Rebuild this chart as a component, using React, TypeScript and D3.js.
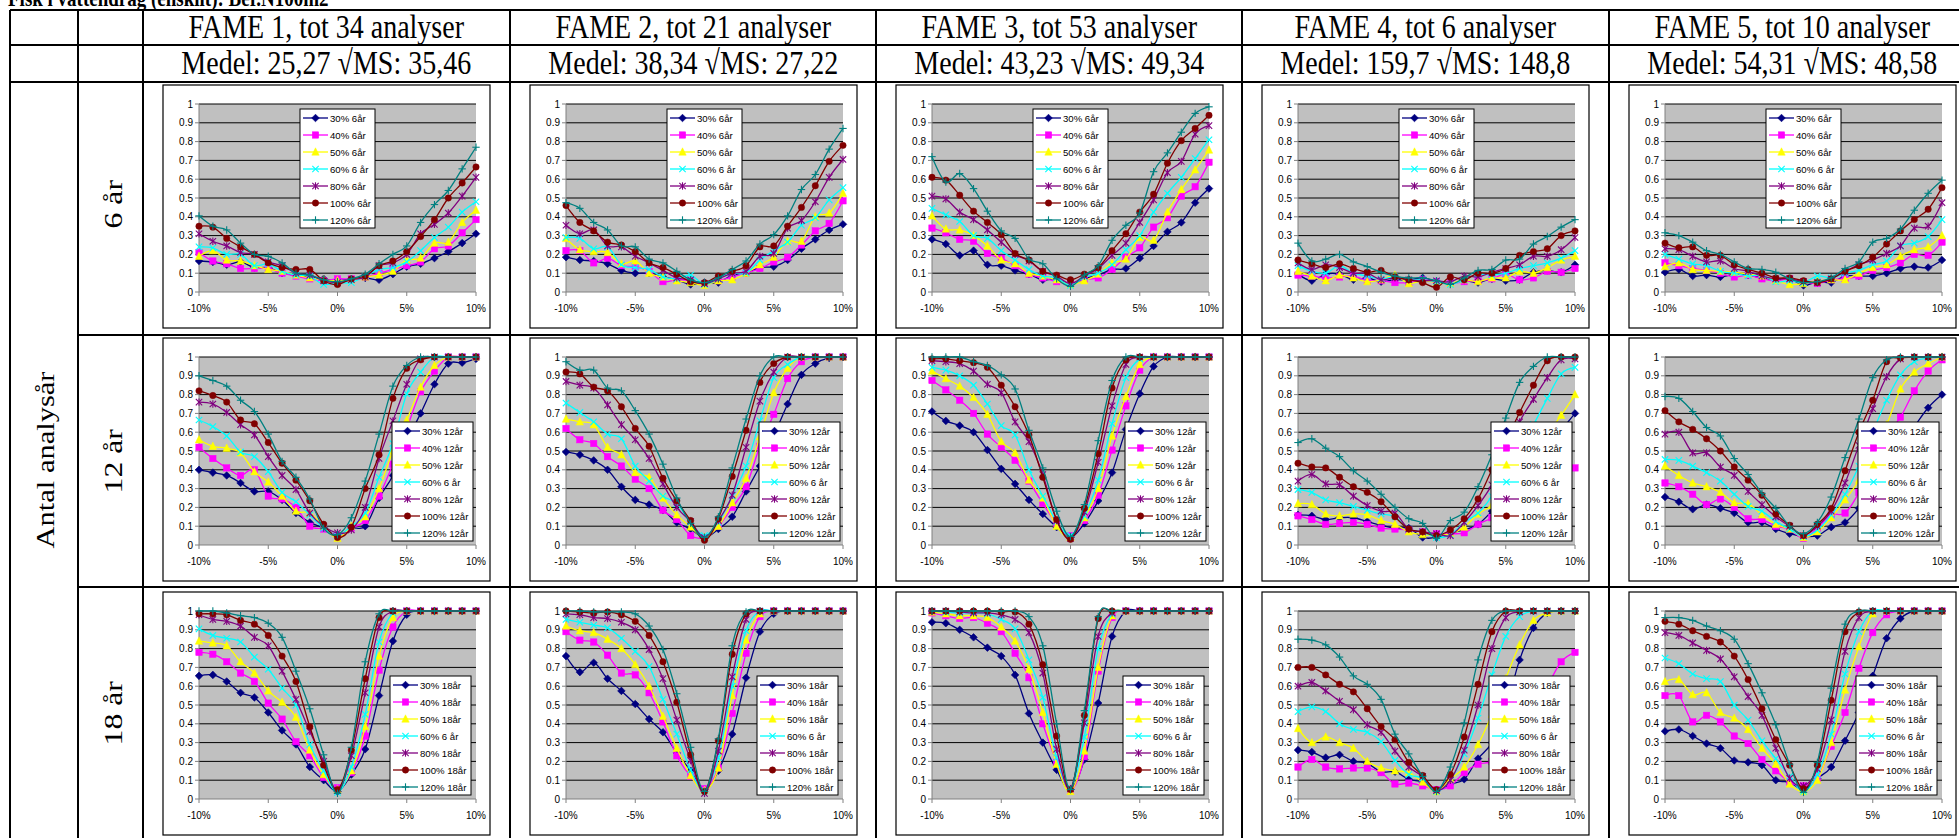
import React from 'react';
import * as d3 from 'd3';

const titleText = 'Fisk i vattendrag (enskilt): Ber.N100m2';
const fameTitles = ['FAME 1, tot 34 analyser', 'FAME 2, tot 21 analyser', 'FAME 3, tot 53 analyser', 'FAME 4, tot 6 analyser', 'FAME 5, tot 10 analyser'];
const medelTexts = ['Medel: 25,27 \u221AMS: 35,46', 'Medel: 38,34 \u221AMS: 27,22', 'Medel: 43,23 \u221AMS: 49,34', 'Medel: 159,7 \u221AMS: 148,8', 'Medel: 54,31 \u221AMS: 48,58'];
const rowLabels = ['6 år', '12 år', '18 år'];
const sideLabel = 'Antal analysår';

const xCats = [-10, -9, -8, -7, -6, -5, -4, -3, -2, -1, 0, 1, 2, 3, 4, 5, 6, 7, 8, 9, 10];
const xTickVals = [-10, -5, 0, 5, 10];
const xTickLabels = ['-10%', '-5%', '0%', '5%', '10%'];
const yTickVals = [0, 0.1, 0.2, 0.3, 0.4, 0.5, 0.6, 0.7, 0.8, 0.9, 1];
const yTickLabels = ['0', '0.1', '0.2', '0.3', '0.4', '0.5', '0.6', '0.7', '0.8', '0.9', '1'];

const seriesColors = ['#000080', '#FF00FF', '#FFFF00', '#00FFFF', '#800080', '#800000', '#008080'];
const markerShapes = ['diamond', 'square', 'triangle', 'x', 'star', 'circle', 'plus'];

const legend6 = ['30% 6år', '40% 6år', '50% 6år', '60% 6 år', '80% 6år', '100% 6år', '120% 6år'];
const legend12 = ['30% 12år', '40% 12år', '50% 12år', '60% 6 år', '80% 12år', '100% 12år', '120% 12år'];
const legend18 = ['30% 18år', '40% 18år', '50% 18år', '60% 6 år', '80% 18år', '100% 18år', '120% 18år'];

// ---- FAME 1 ----
const fame1_6 = [
  [0.165, 0.16, 0.145, 0.16, 0.13, 0.13, 0.10, 0.09, 0.08, 0.07, 0.06, 0.07, 0.075, 0.065, 0.095, 0.135, 0.15, 0.18, 0.215, 0.26, 0.31],
  [0.21, 0.165, 0.15, 0.125, 0.125, 0.125, 0.10, 0.085, 0.07, 0.06, 0.07, 0.07, 0.08, 0.10, 0.12, 0.14, 0.16, 0.23, 0.245, 0.315, 0.385],
  [0.19, 0.22, 0.17, 0.165, 0.14, 0.12, 0.11, 0.09, 0.075, 0.065, 0.06, 0.065, 0.08, 0.09, 0.11, 0.17, 0.18, 0.26, 0.265, 0.37, 0.435],
  [0.24, 0.235, 0.2, 0.2, 0.14, 0.15, 0.11, 0.09, 0.085, 0.04, 0.05, 0.05, 0.085, 0.12, 0.13, 0.16, 0.22, 0.29, 0.345, 0.425, 0.48],
  [0.31, 0.27, 0.245, 0.21, 0.2, 0.16, 0.14, 0.10, 0.09, 0.06, 0.05, 0.065, 0.08, 0.14, 0.155, 0.2, 0.31, 0.36, 0.42, 0.51, 0.61],
  [0.35, 0.345, 0.285, 0.24, 0.20, 0.155, 0.13, 0.12, 0.12, 0.06, 0.04, 0.07, 0.085, 0.14, 0.165, 0.215, 0.295, 0.385, 0.50, 0.58, 0.665],
  [0.405, 0.35, 0.33, 0.26, 0.20, 0.19, 0.155, 0.10, 0.09, 0.065, 0.055, 0.07, 0.095, 0.15, 0.20, 0.245, 0.37, 0.465, 0.54, 0.655, 0.77],
];
const fame1_12 = [
  [0.40, 0.385, 0.37, 0.33, 0.285, 0.285, 0.24, 0.17, 0.12, 0.09, 0.05, 0.09, 0.10, 0.25, 0.37, 0.55, 0.70, 0.855, 0.965, 0.97, 0.99],
  [0.52, 0.46, 0.41, 0.37, 0.40, 0.26, 0.245, 0.20, 0.10, 0.085, 0.05, 0.09, 0.13, 0.26, 0.43, 0.62, 0.815, 0.925, 1, 1, 1],
  [0.56, 0.525, 0.515, 0.49, 0.39, 0.335, 0.26, 0.18, 0.17, 0.10, 0.035, 0.10, 0.15, 0.30, 0.50, 0.665, 0.84, 0.955, 1, 1, 1],
  [0.665, 0.63, 0.58, 0.495, 0.47, 0.39, 0.28, 0.23, 0.16, 0.09, 0.05, 0.10, 0.17, 0.36, 0.54, 0.805, 0.92, 1, 1, 1, 1],
  [0.76, 0.75, 0.705, 0.64, 0.585, 0.47, 0.37, 0.295, 0.17, 0.10, 0.065, 0.08, 0.20, 0.46, 0.66, 0.855, 0.99, 1, 1, 1, 1],
  [0.82, 0.795, 0.76, 0.665, 0.645, 0.545, 0.435, 0.345, 0.235, 0.11, 0.04, 0.095, 0.30, 0.48, 0.78, 0.94, 0.985, 1, 1, 1, 1],
  [0.90, 0.875, 0.845, 0.77, 0.71, 0.59, 0.445, 0.36, 0.245, 0.09, 0.055, 0.145, 0.34, 0.59, 0.845, 0.955, 1, 1, 1, 1, 1],
];
const fame1_18 = [
  [0.655, 0.66, 0.625, 0.565, 0.54, 0.46, 0.365, 0.29, 0.17, 0.10, 0.04, 0.13, 0.265, 0.55, 0.84, 0.98, 1, 1, 1, 1, 1],
  [0.78, 0.77, 0.73, 0.67, 0.625, 0.51, 0.425, 0.305, 0.23, 0.115, 0.06, 0.14, 0.335, 0.685, 0.915, 1, 1, 1, 1, 1, 1],
  [0.84, 0.83, 0.815, 0.73, 0.67, 0.575, 0.515, 0.435, 0.26, 0.13, 0.05, 0.15, 0.385, 0.76, 0.965, 1, 1, 1, 1, 1, 1],
  [0.905, 0.87, 0.855, 0.835, 0.755, 0.69, 0.59, 0.50, 0.29, 0.15, 0.035, 0.17, 0.45, 0.835, 0.99, 1, 1, 1, 1, 1, 1],
  [0.98, 0.955, 0.945, 0.92, 0.86, 0.815, 0.68, 0.53, 0.36, 0.20, 0.045, 0.23, 0.565, 0.915, 1, 1, 1, 1, 1, 1, 1],
  [0.985, 0.985, 0.98, 0.95, 0.93, 0.87, 0.76, 0.625, 0.385, 0.18, 0.05, 0.26, 0.64, 0.965, 1, 1, 1, 1, 1, 1, 1],
  [1, 1, 0.99, 0.975, 0.965, 0.935, 0.86, 0.68, 0.48, 0.235, 0.03, 0.275, 0.73, 0.985, 1, 1, 1, 1, 1, 1, 1],
];

// ---- FAME 2 ----
const fame2_6 = [
  [0.185, 0.17, 0.165, 0.15, 0.115, 0.10, 0.10, 0.08, 0.065, 0.04, 0.05, 0.05, 0.09, 0.10, 0.13, 0.135, 0.17, 0.23, 0.28, 0.33, 0.36],
  [0.22, 0.22, 0.155, 0.18, 0.14, 0.135, 0.11, 0.055, 0.065, 0.06, 0.04, 0.06, 0.08, 0.10, 0.125, 0.16, 0.185, 0.25, 0.325, 0.365, 0.485],
  [0.285, 0.225, 0.215, 0.21, 0.15, 0.165, 0.10, 0.08, 0.06, 0.05, 0.035, 0.06, 0.065, 0.10, 0.145, 0.185, 0.27, 0.27, 0.40, 0.42, 0.525],
  [0.29, 0.285, 0.23, 0.24, 0.145, 0.13, 0.12, 0.08, 0.07, 0.09, 0.04, 0.07, 0.10, 0.10, 0.17, 0.22, 0.265, 0.355, 0.395, 0.49, 0.555],
  [0.355, 0.31, 0.33, 0.245, 0.24, 0.19, 0.155, 0.115, 0.075, 0.065, 0.045, 0.07, 0.10, 0.11, 0.19, 0.205, 0.34, 0.38, 0.48, 0.61, 0.705],
  [0.46, 0.37, 0.325, 0.265, 0.25, 0.215, 0.155, 0.13, 0.095, 0.055, 0.05, 0.085, 0.11, 0.14, 0.24, 0.245, 0.35, 0.45, 0.565, 0.695, 0.78],
  [0.475, 0.445, 0.37, 0.33, 0.245, 0.24, 0.175, 0.155, 0.11, 0.065, 0.05, 0.075, 0.12, 0.165, 0.255, 0.305, 0.405, 0.545, 0.625, 0.76, 0.87],
];
const fame2_12 = [
  [0.495, 0.48, 0.45, 0.40, 0.31, 0.24, 0.215, 0.185, 0.12, 0.085, 0.04, 0.085, 0.15, 0.285, 0.42, 0.58, 0.75, 0.905, 0.965, 0.995, 1],
  [0.62, 0.56, 0.54, 0.47, 0.42, 0.35, 0.30, 0.185, 0.135, 0.05, 0.04, 0.10, 0.20, 0.31, 0.525, 0.695, 0.885, 0.975, 1, 1, 1],
  [0.67, 0.655, 0.64, 0.52, 0.48, 0.385, 0.36, 0.25, 0.16, 0.095, 0.04, 0.10, 0.225, 0.355, 0.575, 0.81, 0.94, 1, 1, 1, 1],
  [0.755, 0.705, 0.655, 0.59, 0.565, 0.42, 0.34, 0.26, 0.22, 0.12, 0.05, 0.12, 0.26, 0.42, 0.66, 0.89, 0.96, 1, 1, 1, 1],
  [0.87, 0.85, 0.835, 0.745, 0.64, 0.56, 0.46, 0.325, 0.20, 0.125, 0.04, 0.13, 0.265, 0.52, 0.765, 0.92, 1, 1, 1, 1, 1],
  [0.92, 0.91, 0.84, 0.82, 0.735, 0.62, 0.525, 0.355, 0.235, 0.13, 0.025, 0.14, 0.365, 0.61, 0.865, 0.965, 1, 1, 1, 1, 1],
  [0.975, 0.93, 0.93, 0.835, 0.82, 0.715, 0.59, 0.43, 0.25, 0.115, 0.04, 0.15, 0.41, 0.67, 0.90, 1, 1, 1, 1, 1, 1],
];
const fame2_18 = [
  [0.76, 0.675, 0.725, 0.64, 0.575, 0.505, 0.425, 0.355, 0.245, 0.15, 0.05, 0.15, 0.345, 0.645, 0.89, 0.985, 1, 1, 1, 1, 1],
  [0.89, 0.845, 0.835, 0.765, 0.67, 0.66, 0.565, 0.41, 0.23, 0.12, 0.055, 0.165, 0.455, 0.775, 0.97, 1, 1, 1, 1, 1, 1],
  [0.92, 0.895, 0.885, 0.85, 0.80, 0.715, 0.60, 0.44, 0.27, 0.125, 0.045, 0.165, 0.55, 0.845, 0.985, 1, 1, 1, 1, 1, 1],
  [0.955, 0.94, 0.925, 0.91, 0.855, 0.785, 0.705, 0.53, 0.345, 0.155, 0.045, 0.22, 0.60, 0.895, 1, 1, 1, 1, 1, 1, 1],
  [0.985, 0.98, 0.965, 0.96, 0.94, 0.90, 0.795, 0.64, 0.42, 0.205, 0.03, 0.255, 0.65, 0.955, 1, 1, 1, 1, 1, 1, 1],
  [1, 0.995, 0.99, 0.995, 0.98, 0.945, 0.87, 0.73, 0.515, 0.235, 0.04, 0.31, 0.77, 0.985, 1, 1, 1, 1, 1, 1, 1],
  [1, 1, 0.995, 0.995, 0.995, 0.985, 0.92, 0.795, 0.56, 0.275, 0.04, 0.32, 0.815, 0.995, 1, 1, 1, 1, 1, 1, 1],
];

// ---- FAME 3 ----
const fame3_6 = [
  [0.28, 0.255, 0.195, 0.22, 0.145, 0.14, 0.115, 0.095, 0.065, 0.07, 0.04, 0.07, 0.09, 0.12, 0.125, 0.18, 0.245, 0.32, 0.37, 0.475, 0.55],
  [0.34, 0.315, 0.28, 0.27, 0.205, 0.18, 0.14, 0.095, 0.075, 0.055, 0.045, 0.065, 0.075, 0.12, 0.185, 0.235, 0.345, 0.395, 0.51, 0.56, 0.69],
  [0.405, 0.335, 0.33, 0.30, 0.245, 0.17, 0.15, 0.10, 0.085, 0.065, 0.04, 0.06, 0.095, 0.155, 0.175, 0.29, 0.275, 0.425, 0.545, 0.65, 0.755],
  [0.445, 0.41, 0.375, 0.30, 0.285, 0.22, 0.17, 0.12, 0.085, 0.075, 0.035, 0.08, 0.10, 0.145, 0.225, 0.30, 0.425, 0.525, 0.61, 0.71, 0.81],
  [0.51, 0.495, 0.425, 0.385, 0.33, 0.265, 0.20, 0.165, 0.11, 0.085, 0.045, 0.085, 0.125, 0.195, 0.26, 0.37, 0.49, 0.635, 0.695, 0.84, 0.885],
  [0.61, 0.595, 0.515, 0.43, 0.37, 0.305, 0.205, 0.17, 0.11, 0.09, 0.065, 0.095, 0.13, 0.22, 0.31, 0.425, 0.52, 0.685, 0.805, 0.87, 0.94],
  [0.72, 0.585, 0.63, 0.55, 0.43, 0.325, 0.285, 0.175, 0.15, 0.07, 0.03, 0.09, 0.14, 0.275, 0.355, 0.42, 0.64, 0.74, 0.85, 0.95, 0.985],
];
const fame3_12 = [
  [0.71, 0.66, 0.635, 0.60, 0.505, 0.405, 0.325, 0.24, 0.165, 0.095, 0.04, 0.115, 0.235, 0.385, 0.615, 0.805, 0.95, 1, 1, 1, 1],
  [0.875, 0.825, 0.77, 0.70, 0.59, 0.52, 0.45, 0.34, 0.22, 0.115, 0.05, 0.13, 0.265, 0.505, 0.74, 0.93, 1, 1, 1, 1, 1],
  [0.925, 0.885, 0.845, 0.785, 0.695, 0.55, 0.49, 0.345, 0.25, 0.10, 0.04, 0.145, 0.30, 0.58, 0.79, 0.96, 1, 1, 1, 1, 1],
  [0.945, 0.93, 0.90, 0.85, 0.75, 0.635, 0.585, 0.40, 0.26, 0.125, 0.05, 0.155, 0.345, 0.645, 0.89, 0.99, 1, 1, 1, 1, 1],
  [0.98, 0.975, 0.965, 0.925, 0.855, 0.81, 0.655, 0.55, 0.375, 0.13, 0.035, 0.175, 0.44, 0.74, 0.96, 1, 1, 1, 1, 1, 1],
  [0.99, 0.99, 0.98, 0.97, 0.945, 0.85, 0.735, 0.585, 0.36, 0.135, 0.03, 0.195, 0.485, 0.835, 0.985, 1, 1, 1, 1, 1, 1],
  [1, 1, 1, 0.975, 0.955, 0.905, 0.83, 0.61, 0.41, 0.18, 0.045, 0.215, 0.555, 0.875, 1, 1, 1, 1, 1, 1, 1],
];
const fame3_18 = [
  [0.94, 0.935, 0.90, 0.86, 0.805, 0.76, 0.66, 0.455, 0.30, 0.155, 0.05, 0.21, 0.51, 0.865, 1, 1, 1, 1, 1, 1, 1],
  [0.99, 0.975, 0.96, 0.965, 0.935, 0.89, 0.775, 0.645, 0.40, 0.195, 0.045, 0.225, 0.68, 0.965, 1, 1, 1, 1, 1, 1, 1],
  [0.995, 0.985, 0.975, 0.975, 0.965, 0.915, 0.84, 0.69, 0.46, 0.185, 0.04, 0.255, 0.70, 0.975, 1, 1, 1, 1, 1, 1, 1],
  [1, 0.995, 0.99, 0.99, 0.985, 0.955, 0.905, 0.74, 0.54, 0.22, 0.06, 0.33, 0.80, 0.985, 1, 1, 1, 1, 1, 1, 1],
  [1, 1, 0.995, 0.99, 0.99, 0.98, 0.955, 0.885, 0.67, 0.265, 0.055, 0.405, 0.865, 0.99, 1, 1, 1, 1, 1, 1, 1],
  [1, 1, 1, 1, 1, 0.995, 0.995, 0.93, 0.715, 0.335, 0.05, 0.445, 0.96, 1, 1, 1, 1, 1, 1, 1, 1],
  [1, 1, 1, 1, 1, 1, 1, 0.97, 0.815, 0.40, 0.05, 0.47, 0.97, 1, 1, 1, 1, 1, 1, 1, 1],
];

// ---- FAME 4 ----
const fame4_6 = [
  [0.095, 0.06, 0.095, 0.095, 0.065, 0.075, 0.055, 0.065, 0.065, 0.075, 0.055, 0.045, 0.06, 0.05, 0.07, 0.06, 0.065, 0.105, 0.115, 0.105, 0.145],
  [0.09, 0.085, 0.075, 0.08, 0.085, 0.06, 0.06, 0.05, 0.05, 0.065, 0.055, 0.045, 0.055, 0.06, 0.07, 0.095, 0.065, 0.075, 0.11, 0.105, 0.125],
  [0.11, 0.085, 0.06, 0.09, 0.075, 0.055, 0.065, 0.09, 0.045, 0.06, 0.05, 0.045, 0.065, 0.055, 0.075, 0.075, 0.11, 0.10, 0.13, 0.17, 0.19],
  [0.14, 0.11, 0.10, 0.14, 0.10, 0.085, 0.07, 0.08, 0.065, 0.065, 0.055, 0.04, 0.065, 0.095, 0.09, 0.10, 0.125, 0.14, 0.155, 0.18, 0.22],
  [0.155, 0.12, 0.145, 0.13, 0.10, 0.10, 0.065, 0.075, 0.065, 0.06, 0.06, 0.055, 0.085, 0.08, 0.105, 0.125, 0.145, 0.19, 0.19, 0.225, 0.29],
  [0.17, 0.15, 0.13, 0.15, 0.125, 0.105, 0.115, 0.08, 0.065, 0.05, 0.025, 0.08, 0.065, 0.10, 0.10, 0.125, 0.195, 0.215, 0.23, 0.30, 0.325],
  [0.26, 0.165, 0.175, 0.20, 0.16, 0.135, 0.105, 0.085, 0.075, 0.075, 0.06, 0.04, 0.075, 0.115, 0.12, 0.17, 0.175, 0.255, 0.295, 0.345, 0.385],
];
const fame4_12 = [
  [0.16, 0.155, 0.135, 0.145, 0.145, 0.125, 0.105, 0.09, 0.09, 0.04, 0.04, 0.065, 0.08, 0.11, 0.18, 0.26, 0.34, 0.43, 0.52, 0.61, 0.70],
  [0.155, 0.135, 0.11, 0.115, 0.12, 0.11, 0.09, 0.085, 0.08, 0.07, 0.06, 0.06, 0.065, 0.11, 0.145, 0.20, 0.25, 0.29, 0.33, 0.37, 0.41],
  [0.22, 0.215, 0.165, 0.155, 0.165, 0.16, 0.13, 0.11, 0.07, 0.055, 0.05, 0.06, 0.095, 0.165, 0.21, 0.28, 0.38, 0.49, 0.59, 0.69, 0.80],
  [0.295, 0.28, 0.24, 0.225, 0.205, 0.185, 0.165, 0.15, 0.085, 0.07, 0.04, 0.055, 0.12, 0.17, 0.26, 0.40, 0.52, 0.64, 0.78, 0.91, 0.945],
  [0.34, 0.375, 0.325, 0.32, 0.26, 0.21, 0.18, 0.17, 0.085, 0.07, 0.06, 0.05, 0.12, 0.21, 0.32, 0.47, 0.655, 0.775, 0.89, 0.985, 0.99],
  [0.435, 0.415, 0.41, 0.36, 0.31, 0.28, 0.23, 0.15, 0.085, 0.07, 0.05, 0.08, 0.14, 0.245, 0.40, 0.55, 0.705, 0.85, 0.98, 1, 1],
  [0.545, 0.565, 0.515, 0.47, 0.395, 0.34, 0.27, 0.20, 0.14, 0.115, 0.035, 0.13, 0.175, 0.31, 0.48, 0.675, 0.865, 0.95, 1, 1, 1],
];
const fame4_18 = [
  [0.26, 0.25, 0.22, 0.235, 0.20, 0.19, 0.145, 0.145, 0.105, 0.09, 0.045, 0.08, 0.105, 0.215, 0.30, 0.48, 0.74, 0.91, 0.99, 1, 1],
  [0.17, 0.21, 0.17, 0.16, 0.165, 0.165, 0.14, 0.08, 0.085, 0.07, 0.05, 0.07, 0.14, 0.185, 0.20, 0.27, 0.37, 0.48, 0.60, 0.73, 0.78],
  [0.375, 0.30, 0.33, 0.30, 0.27, 0.20, 0.165, 0.15, 0.14, 0.09, 0.04, 0.105, 0.17, 0.29, 0.45, 0.64, 0.82, 0.95, 0.99, 1, 1],
  [0.465, 0.49, 0.465, 0.40, 0.37, 0.355, 0.305, 0.205, 0.13, 0.11, 0.04, 0.10, 0.24, 0.43, 0.66, 0.865, 0.97, 1, 1, 1, 1],
  [0.60, 0.62, 0.575, 0.52, 0.475, 0.395, 0.355, 0.255, 0.17, 0.12, 0.045, 0.10, 0.26, 0.50, 0.80, 0.965, 0.995, 1, 1, 1, 1],
  [0.70, 0.70, 0.66, 0.61, 0.57, 0.48, 0.385, 0.315, 0.195, 0.125, 0.05, 0.13, 0.33, 0.61, 0.89, 1, 1, 1, 1, 1, 1],
  [0.85, 0.845, 0.82, 0.755, 0.655, 0.61, 0.53, 0.345, 0.24, 0.12, 0.04, 0.17, 0.405, 0.74, 0.95, 1, 1, 1, 1, 1, 1],
];

// ---- FAME 5 ----
const fame5_6 = [
  [0.105, 0.12, 0.085, 0.09, 0.08, 0.095, 0.09, 0.075, 0.065, 0.07, 0.035, 0.055, 0.05, 0.085, 0.085, 0.085, 0.10, 0.125, 0.135, 0.13, 0.17],
  [0.155, 0.14, 0.125, 0.115, 0.10, 0.08, 0.09, 0.07, 0.06, 0.07, 0.055, 0.045, 0.065, 0.07, 0.085, 0.115, 0.13, 0.155, 0.20, 0.195, 0.265],
  [0.135, 0.155, 0.12, 0.115, 0.11, 0.105, 0.095, 0.085, 0.06, 0.04, 0.045, 0.06, 0.065, 0.065, 0.10, 0.13, 0.145, 0.19, 0.225, 0.24, 0.30],
  [0.20, 0.175, 0.15, 0.14, 0.11, 0.10, 0.085, 0.09, 0.055, 0.06, 0.05, 0.085, 0.075, 0.10, 0.115, 0.145, 0.165, 0.245, 0.26, 0.295, 0.385],
  [0.23, 0.225, 0.19, 0.16, 0.165, 0.125, 0.11, 0.085, 0.07, 0.07, 0.055, 0.05, 0.07, 0.11, 0.145, 0.17, 0.205, 0.245, 0.34, 0.35, 0.475],
  [0.26, 0.235, 0.24, 0.195, 0.195, 0.145, 0.12, 0.10, 0.075, 0.075, 0.06, 0.05, 0.07, 0.11, 0.14, 0.185, 0.255, 0.325, 0.385, 0.44, 0.555],
  [0.315, 0.30, 0.265, 0.22, 0.20, 0.16, 0.125, 0.12, 0.105, 0.07, 0.05, 0.055, 0.075, 0.125, 0.16, 0.265, 0.285, 0.335, 0.435, 0.525, 0.595],
];
const fame5_12 = [
  [0.255, 0.23, 0.19, 0.215, 0.195, 0.17, 0.12, 0.12, 0.085, 0.06, 0.045, 0.05, 0.095, 0.12, 0.195, 0.30, 0.42, 0.53, 0.63, 0.73, 0.80],
  [0.33, 0.31, 0.27, 0.215, 0.245, 0.20, 0.14, 0.135, 0.10, 0.085, 0.035, 0.09, 0.16, 0.17, 0.28, 0.45, 0.58, 0.68, 0.82, 0.925, 0.985],
  [0.42, 0.37, 0.33, 0.31, 0.28, 0.225, 0.22, 0.16, 0.11, 0.085, 0.04, 0.07, 0.145, 0.24, 0.345, 0.50, 0.64, 0.83, 0.92, 0.965, 1],
  [0.455, 0.45, 0.42, 0.385, 0.34, 0.27, 0.205, 0.18, 0.125, 0.085, 0.045, 0.08, 0.16, 0.27, 0.42, 0.60, 0.77, 0.905, 0.975, 0.995, 1],
  [0.59, 0.60, 0.49, 0.49, 0.415, 0.37, 0.285, 0.215, 0.15, 0.10, 0.05, 0.10, 0.18, 0.33, 0.53, 0.725, 0.895, 0.99, 1, 1, 1],
  [0.715, 0.655, 0.615, 0.565, 0.50, 0.415, 0.345, 0.265, 0.165, 0.105, 0.05, 0.11, 0.195, 0.395, 0.60, 0.77, 0.975, 0.995, 1, 1, 1],
  [0.79, 0.78, 0.71, 0.625, 0.58, 0.46, 0.375, 0.275, 0.195, 0.10, 0.06, 0.12, 0.255, 0.465, 0.67, 0.89, 0.985, 1, 1, 1, 1],
];
const fame5_18 = [
  [0.36, 0.37, 0.335, 0.295, 0.27, 0.205, 0.195, 0.18, 0.10, 0.09, 0.05, 0.11, 0.17, 0.31, 0.46, 0.655, 0.855, 0.96, 1, 1, 1],
  [0.55, 0.55, 0.41, 0.445, 0.41, 0.335, 0.295, 0.21, 0.15, 0.09, 0.07, 0.11, 0.28, 0.46, 0.695, 0.885, 0.98, 1, 1, 1, 1],
  [0.625, 0.635, 0.555, 0.565, 0.46, 0.43, 0.37, 0.27, 0.185, 0.08, 0.04, 0.10, 0.30, 0.58, 0.81, 0.985, 1, 1, 1, 1, 1],
  [0.75, 0.72, 0.665, 0.64, 0.625, 0.50, 0.42, 0.31, 0.215, 0.12, 0.04, 0.13, 0.345, 0.665, 0.89, 1, 1, 1, 1, 1, 1],
  [0.885, 0.87, 0.83, 0.79, 0.745, 0.65, 0.545, 0.445, 0.27, 0.11, 0.07, 0.16, 0.42, 0.785, 0.965, 1, 1, 1, 1, 1, 1],
  [0.945, 0.93, 0.895, 0.865, 0.835, 0.76, 0.635, 0.48, 0.315, 0.18, 0.055, 0.18, 0.525, 0.89, 0.995, 1, 1, 1, 1, 1, 1],
  [0.965, 0.965, 0.95, 0.92, 0.895, 0.85, 0.72, 0.565, 0.395, 0.185, 0.035, 0.195, 0.59, 0.93, 1, 1, 1, 1, 1, 1, 1],
];

const panelData = [
  [fame1_6, fame2_6, fame3_6, fame4_6, fame5_6],
  [fame1_12, fame2_12, fame3_12, fame4_12, fame5_12],
  [fame1_18, fame2_18, fame3_18, fame4_18, fame5_18],
];
const rowLegends = [legend6, legend12, legend18];

// ---- layout ----
const W = 1959;
const H = 838;
const SERIF = "'Liberation Serif', 'Times New Roman', serif";
const SANS = "'Liberation Sans', Arial, sans-serif";
const STRETCH = 1.22;
const vLines = [10, 78, 143, 510, 876, 1242, 1609];
const colLeft = [143, 510, 876, 1242, 1609];
const colW = 366.5;
const headerLines = [10, 45, 82];
const rowTop = [82, 335, 587];
const rowH = 252.5;
const boxOff = [3, 3, 5];
const boxW = 327;
const boxH = 243;
const plot = { l: 36, r: 313, t: 19, b: 207 };

function Marker({ shape, color, x, y }: { shape: string; color: string; x: number; y: number }) {
  const s = 3.2;
  switch (shape) {
    case 'diamond':
      return <polygon points={`${x},${y - s - 0.6} ${x + s + 0.6},${y} ${x},${y + s + 0.6} ${x - s - 0.6},${y}`} fill={color} stroke={color} strokeWidth={0.6} />;
    case 'square':
      return <rect x={x - s} y={y - s} width={2 * s} height={2 * s} fill={color} stroke={color} strokeWidth={0.5} />;
    case 'triangle':
      return <polygon points={`${x},${y - s - 1} ${x + s + 0.5},${y + s} ${x - s - 0.5},${y + s}`} fill={color} stroke={color} strokeWidth={0.5} />;
    case 'x':
      return (
        <g stroke={color} strokeWidth={1.1}>
          <line x1={x - s} y1={y - s} x2={x + s} y2={y + s} />
          <line x1={x - s} y1={y + s} x2={x + s} y2={y - s} />
        </g>
      );
    case 'star':
      return (
        <g stroke={color} strokeWidth={1.1}>
          <line x1={x - s} y1={y - s} x2={x + s} y2={y + s} />
          <line x1={x - s} y1={y + s} x2={x + s} y2={y - s} />
          <line x1={x} y1={y - s - 0.5} x2={x} y2={y + s + 0.5} />
        </g>
      );
    case 'circle':
      return <circle cx={x} cy={y} r={s} fill={color} stroke={color} strokeWidth={0.5} />;
    case 'plus':
    default:
      return (
        <g stroke={color} strokeWidth={1.1}>
          <line x1={x - s - 0.5} y1={y} x2={x + s + 0.5} y2={y} />
          <line x1={x} y1={y - s - 0.5} x2={x} y2={y + s + 0.5} />
        </g>
      );
  }
}

function Panel({ bx, by, series, labels, legendPos }: { bx: number; by: number; series: number[][]; labels: string[]; legendPos: { x: number; y: number; w: number } }) {
  const x = d3.scaleLinear().domain([xCats[0], xCats[xCats.length - 1]]).range([bx + plot.l, bx + plot.r]);
  const y = d3.scaleLinear().domain([0, 1]).range([by + plot.b, by + plot.t]);
  const line = d3
    .line<number>()
    .x((_, i) => x(xCats[i]))
    .y((d) => y(d))
    .curve(d3.curveCatmullRom.alpha(0));
  const lx = bx + legendPos.x;
  const ly = by + legendPos.y;
  const lh = 119;
  return (
    <g>
      <rect x={bx} y={by} width={boxW} height={boxH} fill="#fff" stroke="#000" strokeWidth={1.2} />
      <rect x={x(-10)} y={y(1)} width={x(10) - x(-10)} height={y(0) - y(1)} fill="#C0C0C0" />
      {yTickVals.map((v, i) =>
        i > 0 ? <line key={'g' + i} x1={x(-10)} x2={x(10)} y1={y(v)} y2={y(v)} stroke="#000" strokeWidth={1} /> : null
      )}
      <line x1={x(-10)} x2={x(-10)} y1={y(0)} y2={y(1)} stroke="#808080" strokeWidth={1} />
      <line x1={x(-10)} x2={x(10)} y1={y(0)} y2={y(0)} stroke="#808080" strokeWidth={1} />
      {yTickVals.map((v, i) => (
        <g key={'yt' + i}>
          <line x1={x(-10) - 4} x2={x(-10)} y1={y(v)} y2={y(v)} stroke="#808080" strokeWidth={1} />
          <text x={x(-10) - 6} y={y(v) + 3.5} fontSize={10} fontFamily={SANS} textAnchor="end" fill="#000">
            {yTickLabels[i]}
          </text>
        </g>
      ))}
      {xTickVals.map((v, i) => (
        <g key={'xt' + i}>
          <line x1={x(v)} x2={x(v)} y1={y(0)} y2={y(0) + 4} stroke="#808080" strokeWidth={1} />
          <text x={x(v)} y={y(0) + 20} fontSize={10} fontFamily={SANS} textAnchor="middle" fill="#000">
            {xTickLabels[i]}
          </text>
        </g>
      ))}
      {series.map((s, si) => (
        <g key={'s' + si}>
          <path d={line(s) || ''} fill="none" stroke={seriesColors[si]} strokeWidth={1.3} />
          {s.map((v, i) => (
            <Marker key={i} shape={markerShapes[si]} color={seriesColors[si]} x={x(xCats[i])} y={y(v)} />
          ))}
        </g>
      ))}
      <rect x={lx} y={ly} width={legendPos.w} height={lh} fill="#fff" stroke="#000" strokeWidth={1} />
      {labels.map((lab, i) => {
        const cy = ly + 9 + i * 17;
        return (
          <g key={'l' + i}>
            <line x1={lx + 3} x2={lx + 28} y1={cy} y2={cy} stroke={seriesColors[i]} strokeWidth={1.3} />
            <Marker shape={markerShapes[i]} color={seriesColors[i]} x={lx + 15.5} y={cy} />
            <text x={lx + 30} y={cy + 3.5} fontSize={9.6} fontFamily={SANS} fill="#000">
              {lab}
            </text>
          </g>
        );
      })}
    </g>
  );
}

export default function App() {
  const legendPositions = [
    { x: 137, y: 24, w: 75 },
    { x: 229, y: 84, w: 81 },
    { x: 227, y: 84, w: 81 },
  ];
  return (
    <svg width={W} height={H} style={{ position: 'absolute', left: 0, top: 0, background: '#fff' }}>
      <rect x={0} y={0} width={W} height={H} fill="#fff" />
      <text transform={`translate(8, 6) scale(1, ${STRETCH})`} fontSize={19} fontWeight="bold" fontFamily={SERIF} fill="#000">
        {titleText}
      </text>
      {headerLines.map((yy, i) => (
        <line key={'h' + i} x1={10} x2={W + 20} y1={yy} y2={yy} stroke="#000" strokeWidth={2} />
      ))}
      {rowTop.slice(1).map((yy, i) => (
        <line key={'r' + i} x1={78} x2={W + 20} y1={yy} y2={yy} stroke="#000" strokeWidth={2} />
      ))}
      {vLines.map((xx, i) => (
        <line key={'v' + i} x1={xx} x2={xx} y1={10} y2={H + 10} stroke="#000" strokeWidth={2} />
      ))}
      {fameTitles.map((t, i) => (
        <text key={'ft' + i} transform={`translate(${colLeft[i] + colW / 2}, 38) scale(1, ${STRETCH})`} fontSize={28} fontFamily={SERIF} textAnchor="middle" fill="#000">
          {t}
        </text>
      ))}
      {medelTexts.map((t, i) => (
        <text key={'mt' + i} transform={`translate(${colLeft[i] + colW / 2}, 74) scale(1, ${STRETCH})`} fontSize={28} fontFamily={SERIF} textAnchor="middle" fill="#000">
          {t}
        </text>
      ))}
      <text transform={`translate(54, ${(rowTop[0] + H) / 2}) scale(1, ${STRETCH}) rotate(-90)`} fontSize={25} fontFamily={SERIF} textAnchor="middle" fill="#000">
        {sideLabel}
      </text>
      {rowLabels.map((t, i) => (
        <text key={'rl' + i} transform={`translate(122, ${rowTop[i] + rowH / 2 - (i === 0 ? 4 : 0)}) scale(1, ${STRETCH}) rotate(-90)`} fontSize={26} fontFamily={SERIF} textAnchor="middle" fill="#000">
          {t}
        </text>
      ))}
      {panelData.map((row, ri) =>
        row.map((series, ci) => (
          <Panel
            key={ri + '-' + ci}
            bx={colLeft[ci] + 20}
            by={rowTop[ri] + boxOff[ri]}
            series={series}
            labels={rowLegends[ri]}
            legendPos={legendPositions[ri]}
          />
        ))
      )}
    </svg>
  );
}
